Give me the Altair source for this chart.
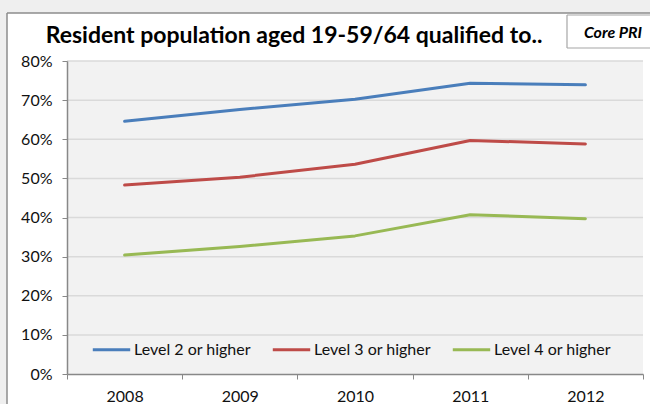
import altair as alt
import pandas as pd

# Share of the resident population aged 19-59/64 qualified to each level
years = ["2008", "2009", "2010", "2011", "2012"]
level2 = [0.646, 0.676, 0.702, 0.743, 0.739]
level3 = [0.483, 0.503, 0.536, 0.597, 0.588]
level4 = [0.304, 0.326, 0.353, 0.407, 0.397]
series = ["Level 2 or higher", "Level 3 or higher", "Level 4 or higher"]
colors = ["#4A7EBB", "#BE4B48", "#98B954"]
y_ticks = [0.0, 0.1, 0.2, 0.3, 0.4, 0.5, 0.6, 0.7, 0.8]
title_text = "Resident population aged 19-59/64 qualified to.."
badge_text = "Core PRI"

FONT = "Lato"
W, H = 576, 313

rows = []
for name, vals in zip(series, [level2, level3, level4]):
    for yr, v in zip(years, vals):
        rows.append({"year": yr, "series": name, "value": v})
df = pd.DataFrame(rows)
grid_df = pd.DataFrame({"value": y_ticks[1:]})
one = pd.DataFrame({"k": [0]})

y_scale = alt.Scale(domain=[0, 0.8], nice=False, zero=True)
y_axis = alt.Axis(
    values=y_ticks,
    format=".0%",
    labelFont=FONT,
    labelFontSize=16,
    labelColor="#111111",
    labelPadding=10,
    tickSize=5,
    tickColor="#888888",
    domainColor="#888888",
    domainWidth=1.5,
    grid=False,
    zindex=1,
)

# white card behind the chart: fill, then its left and top outline
card = alt.Chart(one).mark_rect(fill="white").encode(
    x=alt.value(-60), x2=alt.value(W + 60), y=alt.value(-48), y2=alt.value(H + 80)
)
card_left = alt.Chart(one).mark_rule(color="#8c8c8c", strokeWidth=1.5).encode(
    x=alt.value(-60), y=alt.value(-48), y2=alt.value(H + 80)
)
card_top = alt.Chart(one).mark_rule(color="#8c8c8c", strokeWidth=1.5).encode(
    x=alt.value(-60), x2=alt.value(W + 60), y=alt.value(-48)
)

# plot area fill
plot_bg = alt.Chart(one).mark_rect(fill="#f2f2f2").encode(
    x=alt.value(0), x2=alt.value(W), y=alt.value(0), y2=alt.value(H)
)

# horizontal gridlines
grid = alt.Chart(grid_df).mark_rule(color="#dadada", strokeWidth=1.5).encode(
    y=alt.Y("value:Q", title=None, scale=y_scale, axis=y_axis),
    x=alt.value(0),
    x2=alt.value(W),
)

lines = alt.Chart(df).mark_line(strokeWidth=3, strokeCap="round", strokeJoin="round").encode(
    x=alt.X(
        "year:O",
        title=None,
        scale=alt.Scale(type="band", paddingInner=0, paddingOuter=0),
        axis=alt.Axis(
            tickBand="extent",
            labelAngle=0,
            labelFont=FONT,
            labelFontSize=16,
            labelColor="#111111",
            labelPadding=9,
            tickSize=5,
            tickColor="#888888",
            domainColor="#888888",
            domainWidth=1.5,
            grid=False,
            zindex=1,
        ),
    ),
    y=alt.Y("value:Q", title=None, scale=y_scale, axis=y_axis),
    color=alt.Color(
        "series:N",
        scale=alt.Scale(domain=series, range=colors),
        legend=alt.Legend(
            title=None,
            orient="none",
            direction="horizontal",
            legendX=24,
            legendY=268,
            symbolType="stroke",
            symbolSize=1400,
            symbolStrokeWidth=3,
            labelFont=FONT,
            labelFontSize=16,
            labelColor="#111111",
            labelOffset=2,
            columnPadding=15,
        ),
    ),
    detail="series:N",
)

title = alt.Chart(one).mark_text(
    text=title_text, font=FONT, fontSize=23, fontWeight="bold", align="center",
    baseline="alphabetic", color="#000000",
).encode(x=alt.value(227), y=alt.value(-18))

# "Core PRI" tag: white box open on the right, outlined left, top and bottom
badge_fill = alt.Chart(one).mark_rect(fill="white").encode(
    x=alt.value(500), x2=alt.value(W + 60), y=alt.value(-46), y2=alt.value(-13)
)
badge_left = alt.Chart(one).mark_rule(color="#a6a6a6", strokeWidth=1.2).encode(
    x=alt.value(500), y=alt.value(-46), y2=alt.value(-13)
)
badge_top = alt.Chart(one).mark_rule(color="#a6a6a6", strokeWidth=1.2).encode(
    x=alt.value(500), x2=alt.value(W + 60), y=alt.value(-46)
)
badge_bottom = alt.Chart(one).mark_rule(color="#a6a6a6", strokeWidth=1.2).encode(
    x=alt.value(500), x2=alt.value(W + 60), y=alt.value(-13)
)

badge = alt.Chart(one).mark_text(
    text=badge_text, font=FONT, fontSize=16, fontWeight="bold", fontStyle="italic",
    align="center", baseline="alphabetic", color="#000000",
).encode(x=alt.value(546), y=alt.value(-23))

chart = (
    alt.layer(
        card, card_left, card_top, plot_bg, grid, lines, title,
        badge_fill, badge_left, badge_top, badge_bottom, badge,
    )
    .properties(
        width=W,
        height=H,
        autosize=alt.AutoSizeParams(type="none"),
        padding={"left": 67, "top": 61, "right": 7, "bottom": 30},
        background="#efefef",
    )
    .configure_view(stroke=None)
)

chart.save("out.html", embed_options={"renderer": "svg", "actions": False})
